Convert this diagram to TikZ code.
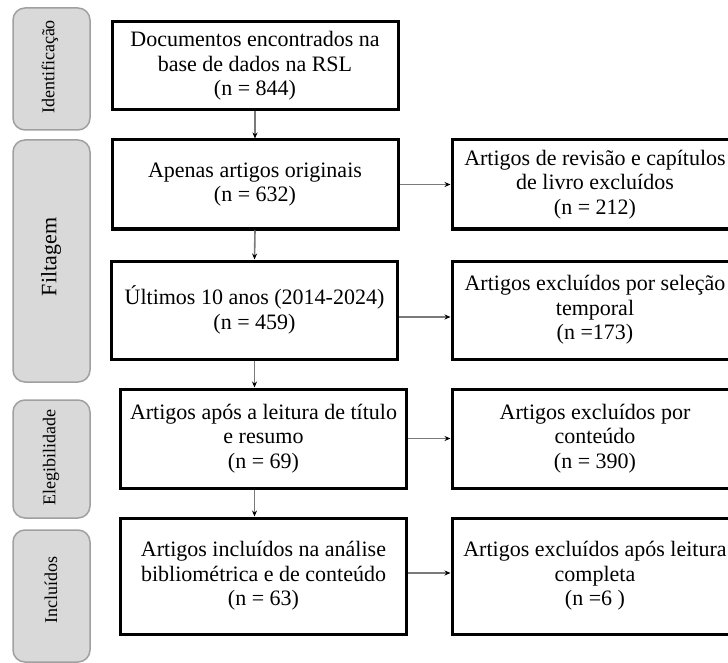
\documentclass[tikz,border=0pt]{standalone}
\usepackage{fontspec}
\setmainfont{Liberation Serif}
\usetikzlibrary{arrows.meta}
\definecolor{sidefill}{HTML}{D9D9D9}
\definecolor{sidedraw}{HTML}{A0A0A0}
\definecolor{arrgray}{HTML}{7A7A7A}
\begin{document}
\begin{tikzpicture}[x=1pt,y=-1pt,
  box/.style={draw=black, line width=3pt, minimum width=286pt, inner sep=0pt, align=center, font=\fontsize{22}{24.5}\selectfont},
  side/.style={draw=sidedraw, fill=sidefill, line width=1.5pt, rounded corners=12pt, minimum width=77pt, inner sep=0pt},
  sidetxt/.style={rotate=90, inner sep=0pt, font=\fontsize{18}{20}\selectfont},
  arr/.style={draw=arrgray, line width=1.6pt, -{Stealth[length=6pt,width=5pt,black]}}]
\path[use as bounding box, clip] (0,0) rectangle (728,663);
\fill[white] (0,0) rectangle (728,663);
% side labels
\node[side, minimum height=122pt] (s1) at (51.5,69) {};
\node[side, minimum height=242pt] (s2) at (51.5,261) {};
\node[side, minimum height=118pt] (s3) at (51.5,459) {};
\node[side, minimum height=132pt] (s4) at (51.5,596) {};
\node[sidetxt] (t1) at (50,67) {Identificação};
\node[sidetxt, font=\fontsize{22}{24}\selectfont] (t2) at (51,257) {Filtagem};
\node[sidetxt] (t3) at (51,458) {Elegibilidade};
\node[sidetxt] (t4) at (51,590) {Incluídos};
% main boxes
\node[box, minimum height=88pt] (b1) at (255,66) {Documentos encontrados na\\ base de dados na RSL\\ (n = 844)};
\node[box, minimum height=89pt] (b2) at (255,184.5) {Apenas artigos originais\\ (n = 632)};
\node[box, minimum height=98pt] (b3) at (254.5,310) {Últimos 10 anos (2014-2024)\\ (n = 459)};
\node[box, minimum height=99pt] (b4) at (263.5,438.5) {Artigos após a leitura de título\\ e resumo\\ (n = 69)};
\node[box, minimum height=116pt] (b5) at (263.5,576) {Artigos incluídos na análise\\ bibliométrica e de conteúdo\\ (n = 63)};
% right boxes
\node[box, minimum height=89pt] (r1) at (595,184.5) {Artigos de revisão e capítulos\\ de livro excluídos\\ (n = 212)};
\node[box, minimum height=98pt] (r2) at (595,310) {Artigos excluídos por seleção\\ temporal\\ (n =173)};
\node[box, minimum height=99pt] (r3) at (595,438.5) {Artigos excluídos por\\ conteúdo\\ (n = 390)};
\node[box, minimum height=116pt] (r4) at (595,576) {Artigos excluídos após leitura\\ completa\\ (n =6 )};
% vertical arrows
\draw[arr] (b1.south) -- (b2.north);
\draw[arr] (b2.south) -- (b3.north);
\draw[arr] (b3.south) -- (b3.south |- b4.north);
\draw[arr] ([xshift=-9pt]b4.south) -- ([xshift=-9pt]b5.north);
% horizontal arrows
\draw[arr] (b2.east) -- (r1.west);
\draw[arr] ([yshift=-7pt]b3.east) -- ([yshift=-7pt]r2.west);
\draw[arr] (b4.east) -- (r3.west);
\draw[arr] ([yshift=3pt]b5.east) -- ([yshift=3pt]r4.west);
\end{tikzpicture}
\end{document}
